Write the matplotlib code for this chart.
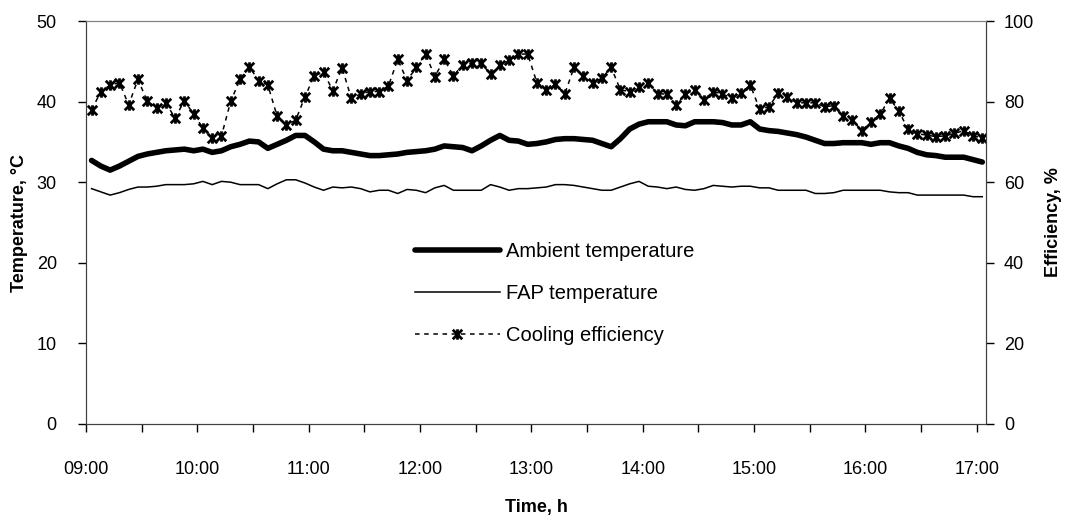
import matplotlib
matplotlib.use("Agg")
import matplotlib.pyplot as plt
import matplotlib.dates as mdates
from matplotlib.path import Path
import pandas as pd

plt.rcParams['font.family'] = ['Liberation Sans', 'DejaVu Sans']

# logger readings every 5 minutes
times = pd.date_range('2000-01-01 09:03', periods=97, freq='5min')

ambient = [32.7, 32.0, 31.5, 32.0, 32.6, 33.2, 33.5, 33.7, 33.9, 34.0,
           34.1, 33.9, 34.1, 33.7, 33.9, 34.4, 34.7, 35.1, 35.0, 34.2,
           34.7, 35.2, 35.8, 35.8, 35.0, 34.1, 33.9, 33.9, 33.7, 33.5,
           33.3, 33.3, 33.4, 33.5, 33.7, 33.8, 33.9, 34.1, 34.5, 34.4,
           34.3, 33.9, 34.5, 35.2, 35.8, 35.2, 35.1, 34.7, 34.8, 35.0,
           35.3, 35.4, 35.4, 35.3, 35.2, 34.8, 34.4, 35.4, 36.6, 37.2,
           37.5, 37.5, 37.5, 37.1, 37.0, 37.5, 37.5, 37.5, 37.4, 37.1,
           37.1, 37.5, 36.6, 36.4, 36.3, 36.1, 35.9, 35.6, 35.2, 34.8,
           34.8, 34.9, 34.9, 34.9, 34.7, 34.9, 34.9, 34.5, 34.2, 33.7,
           33.4, 33.3, 33.1, 33.1, 33.1, 32.8, 32.5]

fap = [29.2, 28.8, 28.4, 28.7, 29.1, 29.4, 29.4, 29.5, 29.7, 29.7,
       29.7, 29.8, 30.1, 29.7, 30.1, 30.0, 29.7, 29.7, 29.7, 29.2,
       29.8, 30.3, 30.3, 29.9, 29.4, 29.0, 29.4, 29.3, 29.4, 29.2,
       28.8, 29.0, 29.0, 28.6, 29.1, 29.0, 28.7, 29.3, 29.6, 29.0,
       29.0, 29.0, 29.0, 29.7, 29.4, 29.0, 29.2, 29.2, 29.3, 29.4,
       29.7, 29.7, 29.6, 29.4, 29.2, 29.0, 29.0, 29.4, 29.8, 30.1,
       29.5, 29.4, 29.2, 29.4, 29.1, 29.0, 29.2, 29.6, 29.5, 29.4,
       29.5, 29.5, 29.3, 29.3, 29.0, 29.0, 29.0, 29.0, 28.6, 28.6,
       28.7, 29.0, 29.0, 29.0, 29.0, 29.0, 28.8, 28.7, 28.7, 28.4,
       28.4, 28.4, 28.4, 28.4, 28.4, 28.2, 28.2]

efficiency = [77.9, 82.5, 84.1, 84.7, 79.2, 85.5, 80.1, 78.5, 79.7, 75.9,
              80.2, 76.9, 73.4, 71.0, 71.5, 80.1, 85.5, 88.7, 85.2, 84.1,
              76.4, 74.2, 75.4, 81.2, 86.4, 87.3, 82.7, 88.4, 80.8, 81.9,
              82.5, 82.5, 83.9, 90.5, 85.2, 88.5, 91.8, 86.2, 90.5, 86.4,
              89.1, 89.5, 89.5, 86.8, 89.1, 90.2, 91.8, 91.8, 84.7, 83.0,
              84.3, 81.9, 88.5, 86.4, 84.7, 85.8, 88.5, 82.9, 82.5, 83.7,
              84.7, 81.9, 81.9, 79.2, 81.8, 83.0, 80.4, 82.5, 81.9, 80.8,
              82.2, 84.1, 78.1, 78.7, 82.1, 81.2, 79.7, 79.7, 79.7, 78.7,
              79.0, 76.4, 75.4, 72.8, 75.0, 76.9, 80.8, 77.7, 73.1, 72.0,
              71.7, 71.3, 71.5, 72.1, 72.8, 71.5, 71.0]

# excel-style star marker: X with a vertical bar
star = Path([(-1, -1), (1, 1), (-1, 1), (1, -1), (0, -1.1), (0, 1.1)],
            [Path.MOVETO, Path.LINETO, Path.MOVETO, Path.LINETO, Path.MOVETO, Path.LINETO])

fig = plt.figure(figsize=(10.7, 5.18), dpi=100)
ax = fig.add_axes([86 / 1070, 1 - 424 / 518, 900 / 1070, 403 / 518])
ax2 = ax.twinx()

l1, = ax.plot(times, ambient, color='black', lw=4.0, solid_capstyle='round',
              solid_joinstyle='round', label='Ambient temperature')
l2, = ax.plot(times, fap, color='black', lw=1.1, label='FAP temperature')
l3, = ax2.plot(times, efficiency, color='black', lw=1.1, linestyle=(0, (3, 3)),
               marker=star, markersize=7.5, markeredgewidth=2.0,
               label='Cooling efficiency')

ax.set_xlim(pd.Timestamp('2000-01-01 09:00'), pd.Timestamp('2000-01-01 17:05'))
ax.set_ylim(0, 50)
ax2.set_ylim(0, 100)
ax.set_yticks(range(0, 51, 10))
ax2.set_yticks(range(0, 101, 20))

ax.xaxis.set_major_locator(mdates.HourLocator())
ax.xaxis.set_major_formatter(mdates.DateFormatter('%H:%M'))
ax.xaxis.set_minor_locator(mdates.MinuteLocator(byminute=[30]))

ax.tick_params(axis='x', which='both', direction='out', length=6, width=1, pad=21, labelsize=13)
ax.tick_params(axis='y', direction='out', length=6, width=1, pad=15, labelsize=13)
ax2.tick_params(axis='y', direction='out', length=6, width=1, pad=7, labelsize=13)

for a in (ax, ax2):
    a.spines['top'].set_color('#808080')
    a.spines['left'].set_color('#404040')
    a.spines['right'].set_color('#404040')
    a.spines['bottom'].set_color('#404040')

ax.set_ylabel('Temperature, °C', fontsize=13, fontweight='bold')
ax2.set_ylabel('Efficiency, %', fontsize=13, fontweight='bold')
ax.set_xlabel('Time, h', fontsize=13, fontweight='bold')
ax.yaxis.set_label_coords(-0.064, 0.5)
ax2.yaxis.set_label_coords(1.066, 0.5)
ax.xaxis.set_label_coords(0.5, -0.185)

ax2.legend(handles=[l1, l2, l3], loc='upper left',
           bbox_to_anchor=(415 / 1070, 1 - 242 / 518), bbox_transform=fig.transFigure,
           frameon=False, fontsize=14.5, handlelength=4.2, handletextpad=0.3,
           labelspacing=1.15, borderpad=0, borderaxespad=0, numpoints=1)

plt.savefig('out.png', dpi=100)
